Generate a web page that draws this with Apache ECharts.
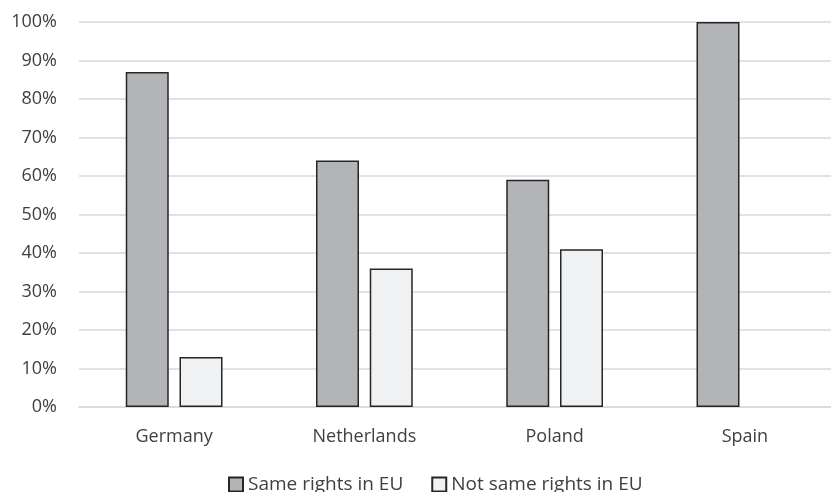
<!DOCTYPE html>
<html>
<head>
<meta charset="utf-8">
<script src="https://cdn.jsdelivr.net/npm/echarts@6/dist/echarts.min.js"></script>
<style>html,body{margin:0;padding:0;background:#fff}#c{width:831px;height:492px}</style>
</head>
<body>
<div id="c"></div>
<script>
const categories = ['Germany', 'Netherlands', 'Poland', 'Spain'];
const sameRights = [87, 64, 59, 100];
const notSameRights = [13, 36, 41, null];
const seriesNames = ['Same rights in EU', 'Not same rights in EU'];

const chart = echarts.init(document.getElementById('c'), null, {renderer: 'canvas'});
const font = 'Open Sans';
chart.setOption({
  animation: false,
  backgroundColor: '#ffffff',
  grid: {left: 79, width: 761, top: 22, height: 385, containLabel: false, outerBoundsMode: 'none'},
  legend: {
    top: 475,
    left: 228,
    padding: 0,
    itemWidth: 14,
    itemHeight: 14,
    itemGap: 28,
    icon: 'rect',
    textStyle: {fontFamily: font, fontSize: 19, color: '#404040'},
    data: seriesNames
  },
  xAxis: {
    type: 'category',
    data: categories,
    axisLine: {show: true, lineStyle: {color: '#d9d9d9', width: 1.5}},
    axisTick: {show: false},
    axisLabel: {fontFamily: font, fontSize: 18, color: '#404040', margin: 21}
  },
  yAxis: {
    type: 'value',
    min: 0, max: 100, interval: 10,
    axisLine: {show: false},
    axisTick: {show: false},
    splitLine: {lineStyle: {color: '#d9d9d9', width: 1.5}},
    axisLabel: {fontFamily: font, fontSize: 18, color: '#404040', margin: 22, formatter: '{value}%'}
  },
  series: [
    {
      name: seriesNames[0], type: 'bar', data: sameRights,
      barWidth: 43, barGap: '25%',
      itemStyle: {color: '#b3b4b8', borderColor: '#262626', borderWidth: 1.5}
    },
    {
      name: seriesNames[1], type: 'bar', data: notSameRights,
      barWidth: 43,
      itemStyle: {color: '#f0f1f3', borderColor: '#262626', borderWidth: 1.5}
    }
  ]
});
</script>
</body>
</html>
